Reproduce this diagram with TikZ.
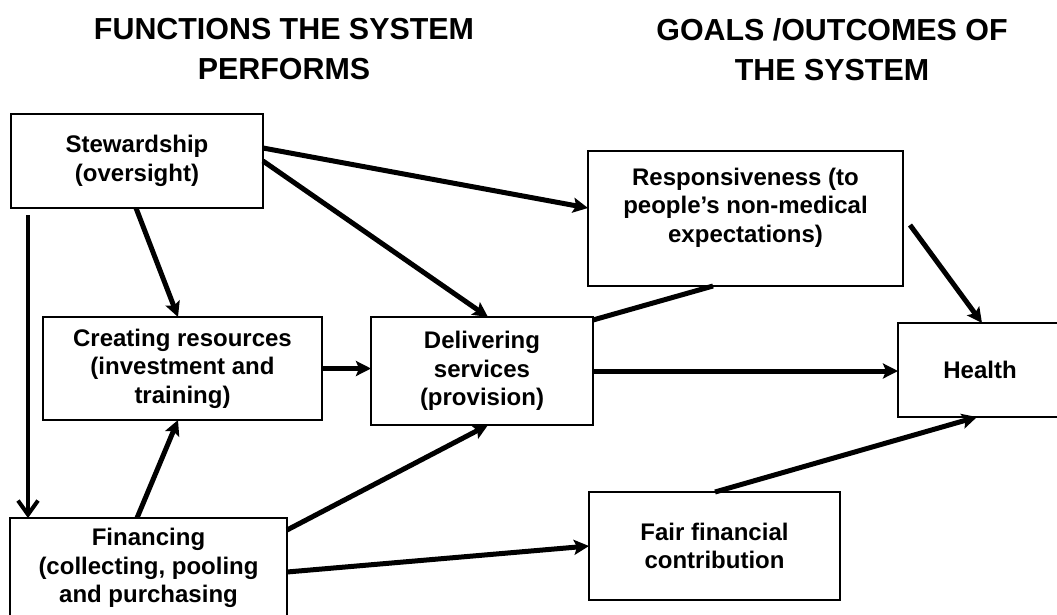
\documentclass[tikz,border=0pt]{standalone}
\usepackage{fontspec}
\setmainfont{Liberation Sans}
\usetikzlibrary{arrows.meta}

\begin{document}
\begin{tikzpicture}[
    x=1pt, y=-1pt,
    heading/.style={align=center, inner sep=0pt, anchor=north,
      font=\fontsize{30.4}{40}\selectfont\bfseries},
    block/.style={draw, line width=2pt, anchor=north west, inner sep=0pt, outer sep=0pt,
      align=center, font=\fontsize{24}{28.5}\selectfont\bfseries},
    arrow/.style={-{Stealth[length=15pt,width=15pt,inset=3pt]}, line width=5pt},
    downarrow/.style={-{Straight Barb[length=14pt,width=20pt]}, line width=4pt},
    link/.style={line width=5pt}
  ]
  \useasboundingbox (0,0) rectangle (1057,614);

  % column headings
  \node[heading] (functions) at (284,18) {FUNCTIONS THE SYSTEM\\PERFORMS};
  \node[heading] (goals) at (832,18) {GOALS /OUTCOMES OF\\THE SYSTEM};

  % functions
  \node[block, minimum width=252pt, minimum height=94pt] (stew) at (11,114) {Stewardship\\(oversight)};
  \node[block, minimum width=279pt, minimum height=103pt] (create) at (43,317) {Creating resources\\(investment and\\training)};
  \node[block, minimum width=222pt, minimum height=108pt] (deliver) at (371,317) {Delivering\\services\\(provision)};
  \node[block, minimum width=277pt, minimum height=100pt] (finance) at (10,518) {Financing\\(collecting, pooling\\and purchasing};

  % goals
  \node[block, minimum width=315pt, minimum height=135pt] (resp) at (588,151) {Responsiveness (to\\people’s non-medical\\expectations)\\[-2pt]\mbox{}};
  \node[block, minimum width=164pt, minimum height=94pt] (health) at (898,323) {Health};
  \node[block, minimum width=251pt, minimum height=108pt] (fair) at (589,492) {Fair financial\\contribution};

  % links
  \draw[downarrow] ([xshift=17pt,yshift=-7pt]stew.south west) -- ([xshift=18pt]finance.north west);
  \draw[arrow] ([xshift=125pt]stew.south west) -- ([xshift=135pt]create.north west);
  \draw[arrow] ([yshift=-34pt]stew.north east) -- ([yshift=-57pt]resp.north west);
  \draw[arrow] ([yshift=-47pt]stew.north east) -- ([xshift=117pt]deliver.north west);
  \draw[arrow] (create.east) -- (create.east -| deliver.west);
  \draw[arrow] (deliver.east) -- (deliver.east -| health.west);
  \draw[link] ([yshift=-3pt]deliver.north east) -- ([xshift=125pt]resp.south west);
  \draw[arrow] ([xshift=7pt,yshift=-74pt]resp.north east) -- ([xshift=84pt]health.north west);
  \draw[arrow] ([xshift=127pt]finance.north west) -- ([xshift=135pt]create.south west);
  \draw[arrow] ([yshift=-12pt]finance.north east) -- ([xshift=117pt]deliver.south west);
  \draw[arrow] ([yshift=-54pt]finance.north east) -- (fair.west);
  \draw[arrow] ([xshift=126pt]fair.north west) -- ([xshift=79pt]health.south west);
\end{tikzpicture}
\end{document}
